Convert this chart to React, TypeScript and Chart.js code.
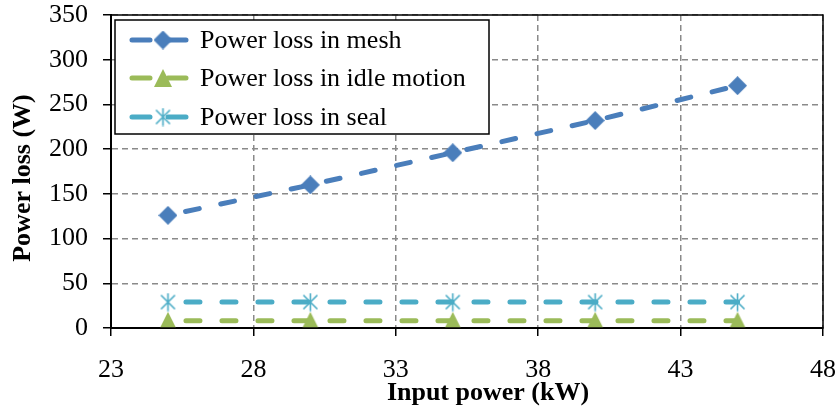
import React, { useEffect, useRef } from "react";
import { Chart, registerables } from "chart.js";

Chart.register(...registerables);

const inputPower = [25, 30, 35, 40, 45];
const meshLoss = [126, 160, 196, 232, 271];
const idleLoss = [8, 8, 8, 8, 8];
const sealLoss = [29, 29, 29, 29, 29];
const seriesNames = ["Power loss in mesh", "Power loss in idle motion", "Power loss in seal"];
const seriesColors = ["#4A7EBB", "#9BBB59", "#4BACC6"];
const xTitle = "Input power (kW)";
const yTitle = "Power loss (W)";

const SERIF = "'Liberation Serif', 'Times New Roman', serif";

function makeStar(color: string) {
  const c = document.createElement("canvas");
  c.width = 17;
  c.height = 19;
  const g = c.getContext("2d")!;
  g.strokeStyle = color;
  g.lineWidth = 1.6;
  g.beginPath();
  g.moveTo(8.5, 0.5);
  g.lineTo(8.5, 18.5);
  g.moveTo(1.5, 2.5);
  g.lineTo(15.5, 16.5);
  g.moveTo(15.5, 2.5);
  g.lineTo(1.5, 16.5);
  g.stroke();
  return c;
}

function makeTriangle(color: string) {
  const c = document.createElement("canvas");
  c.width = 18;
  c.height = 18;
  const g = c.getContext("2d")!;
  g.fillStyle = color;
  g.beginPath();
  g.moveTo(9, 0);
  g.lineTo(18, 18);
  g.lineTo(0, 18);
  g.closePath();
  g.fill();
  return c;
}

function makeDiamond(color: string) {
  const c = document.createElement("canvas");
  c.width = 19;
  c.height = 19;
  const g = c.getContext("2d")!;
  g.fillStyle = color;
  g.beginPath();
  g.moveTo(9.5, 0);
  g.lineTo(19, 9.5);
  g.lineTo(9.5, 19);
  g.lineTo(0, 9.5);
  g.closePath();
  g.fill();
  return c;
}

export default function App() {
  const ref = useRef<HTMLCanvasElement>(null);

  useEffect(() => {
    const markers = [makeDiamond(seriesColors[0]), makeTriangle(seriesColors[1]), makeStar(seriesColors[2])];
    const toXY = (ys: number[]) => inputPower.map((x, i) => ({ x, y: ys[i] }));
    const common = {
      borderWidth: 5,
      borderDash: [14, 22],
      borderDashOffset: 18,
      borderCapStyle: "round" as const,
      tension: 0,
      fill: false,
      pointRadius: 9,
      pointBorderWidth: 0,
    };

    const overlay = {
      id: "overlay",
      afterDraw(chart: any) {
        const { ctx, chartArea } = chart;
        ctx.save();
        ctx.strokeStyle = "#000";
        ctx.lineWidth = 1.5;
        ctx.setLineDash([]);
        ctx.strokeRect(chartArea.left, chartArea.top, chartArea.right - chartArea.left, chartArea.bottom - chartArea.top);

        const lx = 115, ly = 20, lw = 374, lh = 114;
        ctx.fillStyle = "#fff";
        ctx.fillRect(lx, ly, lw, lh);
        ctx.strokeStyle = "#000";
        ctx.lineWidth = 1.5;
        ctx.strokeRect(lx, ly, lw, lh);
        const rows = [40, 78, 117];
        rows.forEach((ry, i) => {
          ctx.strokeStyle = seriesColors[i];
          ctx.lineWidth = 5;
          ctx.lineCap = "round";
          ctx.beginPath();
          ctx.moveTo(132, ry);
          ctx.lineTo(150, ry);
          ctx.moveTo(168, ry);
          ctx.lineTo(186, ry);
          ctx.stroke();
          const m = markers[i];
          ctx.drawImage(m, 163 - m.width / 2, ry - m.height / 2);
          ctx.fillStyle = "#000";
          ctx.font = `26px ${SERIF}`;
          ctx.textAlign = "left";
          ctx.textBaseline = "middle";
          ctx.fillText(seriesNames[i], 200, ry + 1);
        });

        ctx.fillStyle = "#000";
        ctx.font = `bold 26px ${SERIF}`;
        ctx.textAlign = "center";
        ctx.textBaseline = "middle";
        ctx.fillText(xTitle, 488, 393);
        ctx.save();
        ctx.translate(23, 178);
        ctx.rotate(-Math.PI / 2);
        ctx.fillText(yTitle, 0, 0);
        ctx.restore();
        ctx.restore();
      },
    };

    const gridOpts = {
      color: "#8a8a8a",
      lineWidth: 1.5,
      tickColor: "#000",
      tickLength: 8,
      tickWidth: 1.5,
      tickBorderDash: [],
    };

    const chart = new Chart(ref.current!, {
      type: "line",
      data: {
        datasets: [
          {
            label: seriesNames[0],
            data: toXY(meshLoss),
            borderColor: seriesColors[0],
            backgroundColor: seriesColors[0],
            pointStyle: markers[0] as any,
            ...common,
          },
          {
            label: seriesNames[1],
            data: toXY(idleLoss),
            borderColor: seriesColors[1],
            backgroundColor: seriesColors[1],
            pointStyle: markers[1] as any,
            ...common,
          },
          {
            label: seriesNames[2],
            data: toXY(sealLoss),
            borderColor: seriesColors[2],
            backgroundColor: seriesColors[2],
            pointStyle: markers[2] as any,
            ...common,
          },
        ],
      },
      options: {
        responsive: false,
        animation: false,
        layout: { padding: { left: 0, top: 15, right: 13, bottom: 0 } },
        plugins: { legend: { display: false }, tooltip: { enabled: false } },
        scales: {
          x: {
            type: "linear",
            min: 23,
            max: 48,
            afterFit: (s: any) => {
              s.height = 82;
              s.paddingLeft = 0;
              s.paddingRight = 0;
            },
            ticks: {
              stepSize: 5,
              padding: 19,
              color: "#000",
              font: { family: SERIF, size: 26 },
            },
            grid: gridOpts,
            border: { color: "#000", width: 2, dash: [6, 4] },
          },
          y: {
            type: "linear",
            min: 0,
            max: 350,
            afterFit: (s: any) => {
              s.width = 111;
              s.paddingTop = 0;
              s.paddingBottom = 0;
            },
            ticks: {
              stepSize: 50,
              padding: 15,
              color: "#000",
              font: { family: SERIF, size: 26 },
            },
            grid: gridOpts,
            border: { color: "#000", width: 2, dash: [6, 4] },
          },
        },
      },
      plugins: [overlay],
    });
    return () => chart.destroy();
  }, []);

  return (
    <div style={{ position: "fixed", left: 0, top: 0, width: 836, height: 410, background: "#fff" }}>
      <canvas ref={ref} width={836} height={410} style={{ display: "block" }} />
    </div>
  );
}
